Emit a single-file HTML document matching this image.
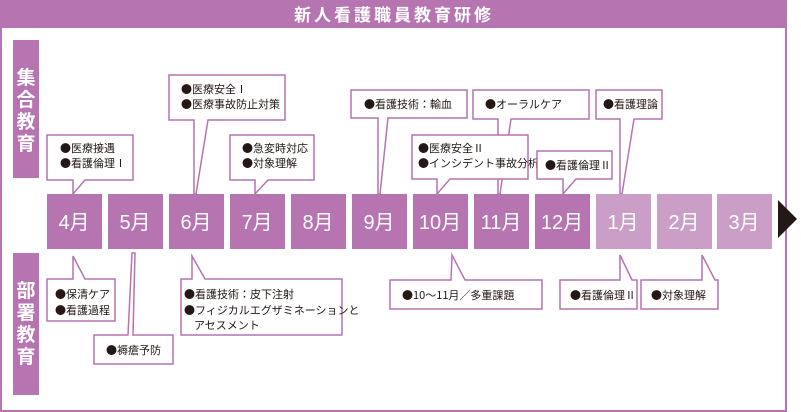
<!DOCTYPE html>
<html><head><meta charset="utf-8"><style>
html,body{margin:0;padding:0;background:#fff}
svg{display:block}
text{font-family:"Liberation Sans","Noto Sans CJK JP",sans-serif}
.c{fill:#fff;stroke:#b674b0;stroke-width:1.5}
.t{font-size:11px;fill:#231815;font-family:"Noto Sans CJK JP",sans-serif}
.m{font-size:20px;fill:#fff;text-anchor:middle}
.s{font-size:19px;font-weight:bold;fill:#fff;text-anchor:middle;font-family:"Noto Sans CJK JP",sans-serif}
</style></head><body>
<svg width="801" height="412" viewBox="0 0 801 412" xmlns="http://www.w3.org/2000/svg">
<rect x="1" y="1" width="785" height="410" fill="#fff" stroke="#b674b0" stroke-width="2"/>
<rect x="0" y="0" width="787" height="28" fill="#b674b0"/>
<text x="394" y="21" font-size="17" font-weight="bold" fill="#fff" text-anchor="middle" letter-spacing="3">新人看護職員教育研修</text>
<rect x="13" y="40" width="26" height="138" fill="#b674b0"/>
<text class="s"><tspan x="26" y="84">集</tspan><tspan x="26" y="106">合</tspan><tspan x="26" y="128">教</tspan><tspan x="26" y="150">育</tspan></text>
<rect x="13" y="253" width="26" height="142" fill="#b674b0"/>
<text class="s"><tspan x="26" y="297">部</tspan><tspan x="26" y="319">署</tspan><tspan x="26" y="341">教</tspan><tspan x="26" y="363">育</tspan></text>

<polygon class="c" points="47,135 133,135 133,180 85,180 73,194 73,180 47,180"/>
<text class="t"><tspan x="60" y="152">●医療接遇</tspan><tspan x="60" y="167">●看護倫理Ⅰ</tspan></text>
<polygon class="c" points="169,75 285,75 285,120 208,120 196,194 194,194 194,120 169,120"/>
<text class="t"><tspan x="181" y="93">●医療安全Ⅰ</tspan><tspan x="181" y="108">●医療事故防止対策</tspan></text>
<polygon class="c" points="230,135 314,135 314,180 268,180 255,194 255,180 230,180"/>
<text class="t"><tspan x="242" y="152">●急変時対応</tspan><tspan x="242" y="167">●対象理解</tspan></text>
<polygon class="c" points="351,90 467,90 467,118 388,118 380,194 378,194 378,118 351,118"/>
<text class="t" x="364" y="108">●看護技術：輸血</text>
<polygon class="c" points="473,90 589,90 589,119 511,119 500,194 498,194 498,119 473,119"/>
<text class="t" x="485" y="108">●オーラルケア</text>
<polygon class="c" points="412,135 528,135 528,179 450,179 437,194 437,179 412,179"/>
<text class="t"><tspan x="418" y="152">●医療安全Ⅱ</tspan><tspan x="418" y="167">●インシデント事故分析</tspan></text>
<polygon class="c" points="537,151 612,151 612,179 576,179 563,194 563,179 537,179"/>
<text class="t" x="545" y="169">●看護倫理Ⅱ</text>
<polygon class="c" points="596,90 662,90 662,119 634,119 622,194 620,194 620,119 596,119"/>
<text class="t" x="603" y="108">●看護理論</text>

<polygon class="c" points="47,279 73,279 73,256 85,279 115,279 115,321 47,321"/>
<text class="t"><tspan x="55" y="298">●保清ケア</tspan><tspan x="55" y="314">●看護過程</tspan></text>
<polygon class="c" points="94,335 128,335 132,253 135,253 133,335 173,335 173,364 94,364"/>
<text class="t" x="106" y="354">●褥瘡予防</text>
<polygon class="c" points="181,279 192,279 192,256 205,279 342,279 342,335 181,335"/>
<text class="t"><tspan x="184" y="298">●看護技術：皮下注射</tspan><tspan x="184" y="314">●フィジカルエグザミネーションと</tspan><tspan x="194" y="329">アセスメント</tspan></text>
<polygon class="c" points="390,280 451,280 452,255 465,280 542,280 542,309 390,309"/>
<text class="t" x="402" y="299">●10〜11月／多重課題</text>
<polygon class="c" points="560,280 620,280 620,255 632,280 637,280 637,309 560,309"/>
<text class="t" x="570" y="299">●看護倫理Ⅱ</text>
<polygon class="c" points="641,280 702,280 702,255 715,280 718,280 718,309 641,309"/>
<text class="t" x="651" y="299">●対象理解</text>

<g fill="#b674b0">
<rect x="47" y="194" width="55" height="55"/><rect x="108" y="194" width="55" height="55"/>
<rect x="169" y="194" width="55" height="55"/><rect x="230" y="194" width="55" height="55"/>
<rect x="291" y="194" width="55" height="55"/><rect x="352" y="194" width="55" height="55"/>
<rect x="413" y="194" width="55" height="55"/><rect x="474" y="194" width="55" height="55"/>
<rect x="535" y="194" width="55" height="55"/>
</g>
<g fill="#cb9ec8">
<rect x="596" y="194" width="55" height="55"/><rect x="657" y="194" width="55" height="55"/><rect x="717" y="194" width="55" height="55"/>
</g>
<text class="m" x="74" y="229">4月</text><text class="m" x="135" y="229">5月</text>
<text class="m" x="196" y="229">6月</text><text class="m" x="257" y="229">7月</text>
<text class="m" x="318" y="229">8月</text><text class="m" x="379" y="229">9月</text>
<text class="m" x="440" y="229">10月</text><text class="m" x="501" y="229">11月</text>
<text class="m" x="562" y="229">12月</text><text class="m" x="623" y="229">1月</text>
<text class="m" x="684" y="229">2月</text><text class="m" x="744" y="229">3月</text>
<polygon points="778,200 797,219 778,238" fill="#231815"/>
</svg>
</body></html>
